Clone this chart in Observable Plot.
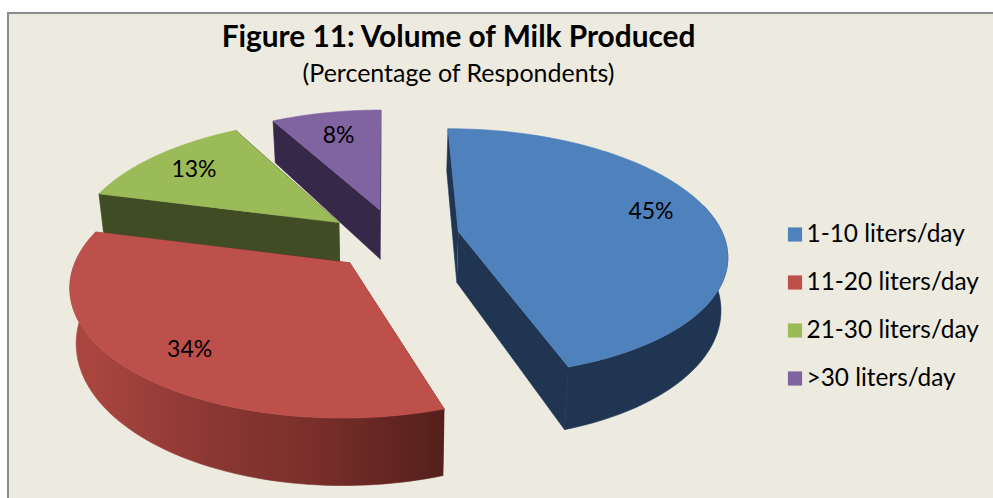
<!DOCTYPE html>
<html>
<head>
<meta charset="utf-8">
<script src="https://cdn.jsdelivr.net/npm/d3@7"></script>
<script src="https://cdn.jsdelivr.net/npm/@observablehq/plot@0.6"></script>
<style>
  html, body { margin: 0; padding: 0; background: #fff; }
  svg { display: block; font-family: Lato, "Open Sans", sans-serif; }
</style>
</head>
<body>
<div id="chart"></div>
<script>
// Survey shares, in percent of respondents
const categories = ["1-10 liters/day", "11-20 liters/day", "21-30 liters/day", ">30 liters/day"];
const shares = [45, 34, 13, 8];
const shareLabels = ["45%", "34%", "13%", "8%"];
const faceColors = ["#4f81bd", "#be504c", "#9bbb59", "#8064a2"];
const wallColors = ["#1f3552", "url(#redWall)", "#3f4c24", "#352848"];

// Exploded pie geometry: tilted disc seen in perspective
const W = 993, H = 498;
const view = {cx: 385, cy: 235, rx: 265, ry: 125, k: 0.17, depth: 51, inset: 0.98};
const offsetX = [0.276, -0.13, -0.178, -0.021];
const offsetY = [-0.03, 0.21, -0.105, -0.21];
const squash = [0.97, 0.96, 1, 1];
const startAngle = 0;
const labelPlace = [[0.78, -4], [0.79, -3], [0.78, 0], [0.74, 0]];
const paintOrder = [3, 2, 1, 0];
const redStops = [[0, "#a8453f"], [0.33, "#8b3733"], [0.62, "#7a2f2b"], [1, "#551f1b"]];

const rad = (d) => d * Math.PI / 180;

function project(u, v) {
  const t = 1 / (1 - view.k * v);
  return {x: view.cx + view.rx * u * t, y: view.cy + view.ry * v * t, t};
}
function dropped(u, v) {
  const p = project(u, v);
  return {
    x: view.cx + (p.x - view.cx) * view.inset,
    y: view.cy + (p.y - view.cy) * view.inset + view.depth * Math.pow(p.t, 1.5)
  };
}

const total = d3.sum(shares);
let running = startAngle;
const slices = shares.map((s, i) => {
  const a0 = running, a1 = running + s / total * 360;
  running = a1;
  return {i, a0, a1, ox: offsetX[i], oy: offsetY[i], squash: squash[i]};
});

function planar(s, angle, r = 1) {
  return [s.ox + r * Math.sin(rad(angle)), s.oy - r * s.squash * Math.cos(rad(angle))];
}
function rimAngles(s) {
  return d3.range(0, 81).map((j) => s.a0 + (s.a1 - s.a0) * j / 80);
}

// Build every painted polygon, back to front, from the share angles
const polygons = [];
let nextId = 0;
function addPolygon(points, color) {
  const id = nextId++;
  for (const p of points) polygons.push({id, x: p.x, y: p.y, color});
}

for (const i of paintOrder) {
  const s = slices[i];
  const apex = planar(s, 0, 0);
  for (const a of [s.a0, s.a1]) {
    const rim = planar(s, a);
    addPolygon([project(...apex), project(...rim), dropped(...rim), dropped(...apex)], wallColors[i]);
  }
  const angles = rimAngles(s);
  const front = angles.filter((a) => -Math.cos(rad(a)) > -0.25).map((a) => planar(s, a));
  if (front.length > 1) {
    addPolygon([...front.map((p) => project(...p)), ...front.slice().reverse().map((p) => dropped(...p))], wallColors[i]);
  }
  addPolygon([project(...apex), ...angles.map((a) => project(...planar(s, a)))], faceColors[i]);
}

const labelRows = slices.map((s) => {
  const [r, shift] = labelPlace[s.i];
  const p = project(...planar(s, (s.a0 + s.a1) / 2 + shift, r));
  return {x: p.x, y: p.y, text: shareLabels[s.i]};
});

const legendRows = categories.map((name, i) => ({name, color: faceColors[i], row: i}));
const legendX = 794.5, legendTop = 234, legendStep = 48;

// Horizontal shading for the red slice's outer wall, spanning its rim
const red = slices[1];
const redLeft = project(...planar(red, red.a1)).x;
const redRight = project(...planar(red, red.a0)).x;
function redGradient() {
  const defs = d3.create("svg:defs");
  const g = defs.append("linearGradient")
    .attr("id", "redWall")
    .attr("gradientUnits", "userSpaceOnUse")
    .attr("x1", redLeft).attr("x2", redRight)
    .attr("y1", 0).attr("y2", 0);
  for (const [offset, color] of redStops) {
    g.append("stop").attr("offset", offset).attr("stop-color", color);
  }
  return defs.node();
}

const chart = Plot.plot({
  width: W,
  height: H,
  margin: 0,
  x: {domain: [0, W], axis: null},
  y: {domain: [H, 0], axis: null},
  color: {type: "identity"},
  marks: [
    redGradient,
    Plot.rect([0], {x1: 8, x2: W + 6, y1: 13, y2: H + 6, fill: "#edebe0", stroke: "#8c8c8c", strokeWidth: 2}),
    Plot.line(polygons, {x: "x", y: "y", z: "id", fill: "color", stroke: "color", strokeWidth: 0.6}),
    Plot.text(labelRows, {x: "x", y: "y", text: "text", fontSize: 23, fill: "#000"}),
    Plot.text(["Figure 11: Volume of Milk Produced"], {x: 458, y: 37, fontSize: 29.8, fontWeight: 700, fill: "#000"}),
    Plot.text(["(Percentage of Respondents)"], {x: 458, y: 73, fontSize: 25, fill: "#000"}),
    Plot.dot(legendRows, {x: legendX, y: (d) => legendTop + d.row * legendStep, symbol: "square", r: 8, fill: "color"}),
    Plot.text(legendRows, {x: 806, y: (d) => legendTop + d.row * legendStep, text: "name", textAnchor: "start", fontSize: 24.4, fill: "#000"})
  ]
});
document.getElementById("chart").append(chart);
</script>
</body>
</html>
